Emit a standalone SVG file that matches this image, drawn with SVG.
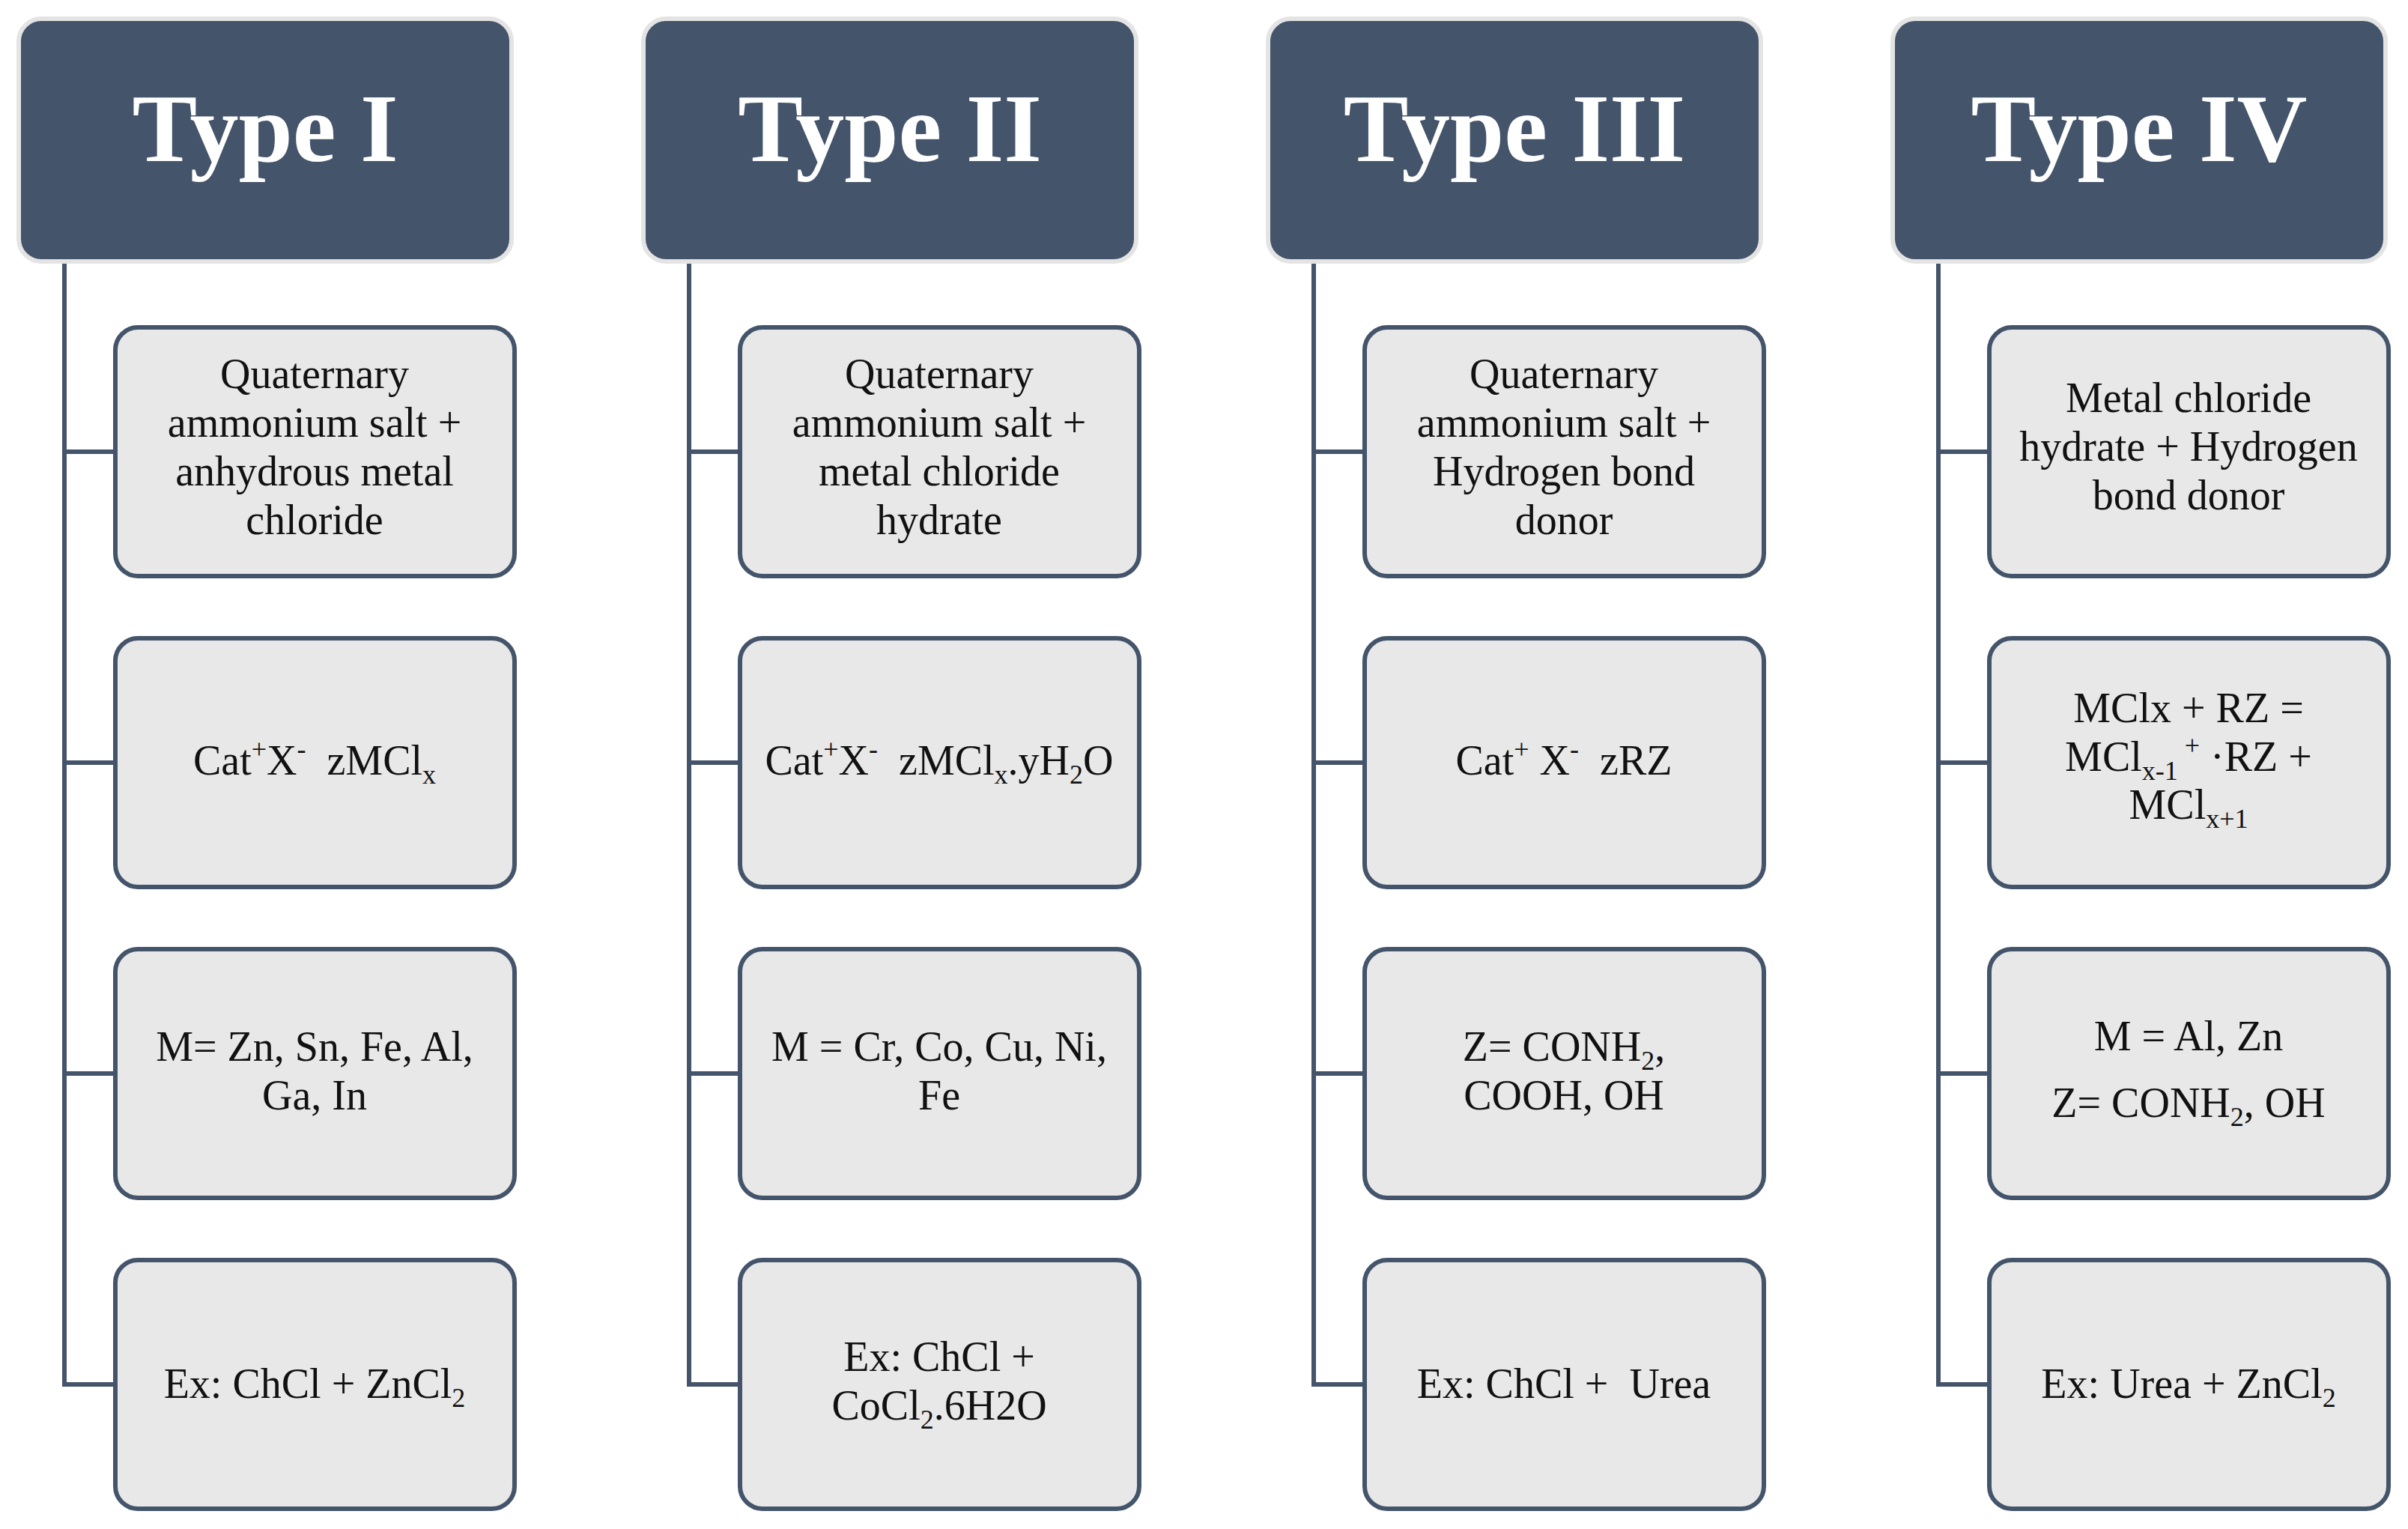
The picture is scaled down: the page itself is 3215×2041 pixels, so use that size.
<svg xmlns="http://www.w3.org/2000/svg" width="3215" height="2041" viewBox="0 0 3215 2041">
<style>
.hdr{fill:#44546A;stroke:#E4E4E4;stroke-width:6}
.htx{font-family:"Liberation Serif",serif;font-weight:bold;font-size:130px;fill:#FFFFFF;text-anchor:middle}
.box{fill:#E8E8E8;stroke:#44546A;stroke-width:6}
.btx{font-family:"Liberation Serif",serif;font-size:56px;fill:#111111;text-anchor:middle;white-space:pre}
.s{font-size:36px}
.con{fill:none;stroke:#44546A;stroke-width:6}
</style>
<rect width="3215" height="2041" fill="#FFFFFF"/>
<g id="connectors">
<path class="con" d="M86 349 V1848 H154 M86 603 H154 M86 1018 H154 M86 1433 H154"/>
<path class="con" d="M920 349 V1848 H988 M920 603 H988 M920 1018 H988 M920 1433 H988"/>
<path class="con" d="M1754 349 V1848 H1822 M1754 603 H1822 M1754 1018 H1822 M1754 1433 H1822"/>
<path class="con" d="M2588 349 V1848 H2656 M2588 603 H2656 M2588 1018 H2656 M2588 1433 H2656"/>
</g>

<g id="type1">
<rect class="hdr" x="25" y="25" width="658" height="324" rx="30"/>
<text class="htx" x="354" y="215">Type I</text>
</g>
<g id="type1-a">
<rect class="box" x="154" y="437" width="533" height="332" rx="30"/>
<text class="btx" x="420"><tspan x="420" y="518">Quaternary</tspan><tspan x="420" y="583">ammonium salt +</tspan><tspan x="420" y="648">anhydrous metal</tspan><tspan x="420" y="713">chloride</tspan></text>
</g>
<g id="type1-b">
<rect class="box" x="154" y="852" width="533" height="332" rx="30"/>
<text class="btx" x="420" y="1034">Cat<tspan class="s" dy="-22">+</tspan><tspan dy="22">X</tspan><tspan class="s" dy="-22">-</tspan><tspan dy="22">  zMCl</tspan><tspan class="s" dy="12">x</tspan></text>
</g>
<g id="type1-c">
<rect class="box" x="154" y="1267" width="533" height="332" rx="30"/>
<text class="btx" x="420"><tspan x="420" y="1416">M= Zn, Sn, Fe, Al,</tspan><tspan x="420" y="1481">Ga, In</tspan></text>
</g>
<g id="type1-d">
<rect class="box" x="154" y="1682" width="533" height="332" rx="30"/>
<text class="btx" x="420" y="1866">Ex: ChCl + ZnCl<tspan class="s" dy="12">2</tspan></text>
</g>

<g id="type2">
<rect class="hdr" x="859" y="25" width="658" height="324" rx="30"/>
<text class="htx" x="1188" y="215">Type II</text>
</g>
<g id="type2-a">
<rect class="box" x="988" y="437" width="533" height="332" rx="30"/>
<text class="btx" x="1254"><tspan x="1254" y="518">Quaternary</tspan><tspan x="1254" y="583">ammonium salt +</tspan><tspan x="1254" y="648">metal chloride</tspan><tspan x="1254" y="713">hydrate</tspan></text>
</g>
<g id="type2-b">
<rect class="box" x="988" y="852" width="533" height="332" rx="30"/>
<text class="btx" x="1254" y="1034">Cat<tspan class="s" dy="-22">+</tspan><tspan dy="22">X</tspan><tspan class="s" dy="-22">-</tspan><tspan dy="22">  zMCl</tspan><tspan class="s" dy="12">x</tspan><tspan dy="-12">.yH</tspan><tspan class="s" dy="12">2</tspan><tspan dy="-12">O</tspan></text>
</g>
<g id="type2-c">
<rect class="box" x="988" y="1267" width="533" height="332" rx="30"/>
<text class="btx" x="1254"><tspan x="1254" y="1416">M = Cr, Co, Cu, Ni,</tspan><tspan x="1254" y="1481">Fe</tspan></text>
</g>
<g id="type2-d">
<rect class="box" x="988" y="1682" width="533" height="332" rx="30"/>
<text class="btx" x="1254"><tspan x="1254" y="1830">Ex: ChCl +</tspan><tspan x="1254" y="1895">CoCl</tspan><tspan class="s" dy="12">2</tspan><tspan dy="-12">.6H2O</tspan></text>
</g>

<g id="type3">
<rect class="hdr" x="1693" y="25" width="658" height="324" rx="30"/>
<text class="htx" x="2022" y="215">Type III</text>
</g>
<g id="type3-a">
<rect class="box" x="1822" y="437" width="533" height="332" rx="30"/>
<text class="btx" x="2088"><tspan x="2088" y="518">Quaternary</tspan><tspan x="2088" y="583">ammonium salt +</tspan><tspan x="2088" y="648">Hydrogen bond</tspan><tspan x="2088" y="713">donor</tspan></text>
</g>
<g id="type3-b">
<rect class="box" x="1822" y="852" width="533" height="332" rx="30"/>
<text class="btx" x="2088" y="1034">Cat<tspan class="s" dy="-22">+</tspan><tspan dy="22"> X</tspan><tspan class="s" dy="-22">-</tspan><tspan dy="22">  zRZ</tspan></text>
</g>
<g id="type3-c">
<rect class="box" x="1822" y="1267" width="533" height="332" rx="30"/>
<text class="btx" x="2088"><tspan x="2088" y="1416">Z= CONH</tspan><tspan class="s" dy="12">2</tspan><tspan dy="-12">,</tspan><tspan x="2088" y="1481">COOH, OH</tspan></text>
</g>
<g id="type3-d">
<rect class="box" x="1822" y="1682" width="533" height="332" rx="30"/>
<text class="btx" x="2088" y="1866">Ex: ChCl +  Urea</text>
</g>

<g id="type4">
<rect class="hdr" x="2527" y="25" width="658" height="324" rx="30"/>
<text class="htx" x="2856" y="215">Type IV</text>
</g>
<g id="type4-a">
<rect class="box" x="2656" y="437" width="533" height="332" rx="30"/>
<text class="btx" x="2922"><tspan x="2922" y="550">Metal chloride</tspan><tspan x="2922" y="615">hydrate + Hydrogen</tspan><tspan x="2922" y="680">bond donor</tspan></text>
</g>
<g id="type4-b">
<rect class="box" x="2656" y="852" width="533" height="332" rx="30"/>
<text class="btx" x="2922"><tspan x="2922" y="964">MClx + RZ =</tspan><tspan x="2922" y="1029">MCl</tspan><tspan class="s" dy="12">x-1</tspan><tspan class="s" dy="-34"> +</tspan><tspan dy="22"> ·RZ +</tspan><tspan x="2922" y="1093">MCl</tspan><tspan class="s" dy="12">x+1</tspan></text>
</g>
<g id="type4-c">
<rect class="box" x="2656" y="1267" width="533" height="332" rx="30"/>
<text class="btx" x="2922"><tspan x="2922" y="1402">M = Al, Zn</tspan><tspan x="2922" y="1491">Z= CONH</tspan><tspan class="s" dy="12">2</tspan><tspan dy="-12">, OH</tspan></text>
</g>
<g id="type4-d">
<rect class="box" x="2656" y="1682" width="533" height="332" rx="30"/>
<text class="btx" x="2922" y="1866">Ex: Urea + ZnCl<tspan class="s" dy="12">2</tspan></text>
</g>
</svg>
